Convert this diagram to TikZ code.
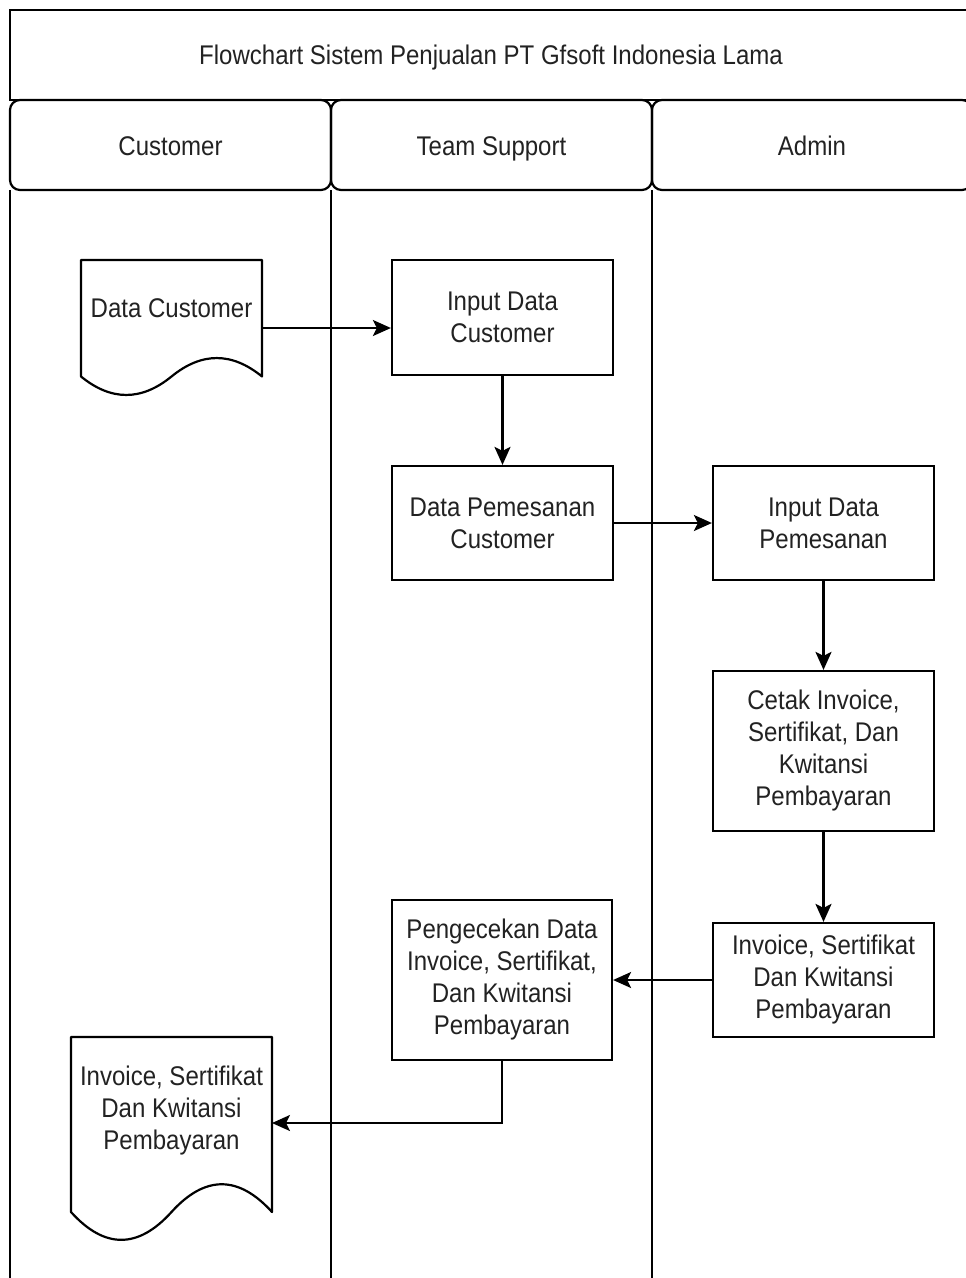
\documentclass[tikz,border=0pt]{standalone}
\usepackage{fontspec}
\setmainfont{Liberation Sans}[FakeStretch=0.89]
\usetikzlibrary{arrows.meta}
\definecolor{txt}{HTML}{222222}
\tikzset{
  ln/.style={line width=2.2pt, draw=black},
  procbox/.style={ln, rectangle, align=center, inner sep=0pt, text=txt,
    font=\fontsize{27}{32}\selectfont},
  lbl/.style={align=center, inner sep=0pt, text=txt, font=\fontsize{27}{32}\selectfont},
  arr/.style={ln, -{Stealth[length=18pt, width=16pt, inset=4pt]}},
}
\begin{document}
\begin{tikzpicture}[x=1pt, y=-1pt]
\useasboundingbox (0,0) rectangle (966,1278);
\clip (0,0) rectangle (966,1278);
% title
\draw[ln] (975,10) -- (10,10) -- (10,100) -- (975,100);
\node[lbl, anchor=base] (title) at (491,64) {Flowchart Sistem Penjualan PT Gfsoft Indonesia Lama};
% lane headers
\draw[ln, rounded corners=10pt] (10,100) rectangle (331,190);
\draw[ln, rounded corners=10pt] (331,100) rectangle (652,190);
\draw[ln, rounded corners=10pt] (652,100) rectangle (972,190);
\node[lbl, anchor=base] (h1) at (170.5,155) {Customer};
\node[lbl, anchor=base] (h2) at (491.5,155) {Team Support};
\node[lbl, anchor=base] (h3) at (812,155) {Admin};
% lane lines
\draw[ln] (10,190) -- (10,1290);
\draw[ln] (331,190) -- (331,1290);
\draw[ln] (652,190) -- (652,1290);
% document 1
\draw[ln, line join=round] (81,260) -- (262,260) -- (262,376.5)
  .. controls (231.83,351.9) and (201.67,351.9) .. (171.5,376.5)
  .. controls (141.33,401.1) and (111.17,401.1) .. (81,376.5) -- cycle;
\node[lbl] (dc) at (171.5,308) {Data Customer};
\coordinate (dcE) at (262,328);
% document 2
\draw[ln, line join=round] (71,1037) -- (272,1037) -- (272,1212)
  .. controls (238.5,1175) and (205,1175) .. (171.5,1212)
  .. controls (138,1249.1) and (104.5,1249.1) .. (71,1212) -- cycle;
\node[lbl] (doc2) at (171.5,1111) {Invoice, Sertifikat\\Dan Kwitansi\\Pembayaran};
\coordinate (d2E) at (272,1123);
% process boxes
\node[procbox, minimum width=221pt, minimum height=115pt] (idc) at (502.5,317.5) {Input Data\\Customer};
\node[procbox, minimum width=221pt, minimum height=114pt] (dpc) at (502.5,523) {Data Pemesanan\\Customer};
\node[procbox, minimum width=221pt, minimum height=114pt] (idp) at (823.5,523) {Input Data\\Pemesanan};
\node[procbox, minimum width=221pt, minimum height=160pt] (cetak) at (823.5,751) {Cetak Invoice,\\Sertifikat, Dan\\Kwitansi\\Pembayaran};
\node[procbox, minimum width=221pt, minimum height=114pt] (inv) at (823.5,980) {Invoice, Sertifikat\\Dan Kwitansi\\Pembayaran};
\node[procbox, minimum width=220pt, minimum height=160pt] (peng) at (502,980) {Pengecekan Data\\Invoice, Sertifikat,\\Dan Kwitansi\\Pembayaran};
% connectors
\draw[arr] (dcE) -- (dcE -| idc.west);
\draw[arr] (idc.south) -- (dpc.north);
\draw[arr] (dpc.east) -- (idp.west);
\draw[arr] (idp.south) -- (cetak.north);
\draw[arr] (cetak.south) -- (inv.north);
\draw[arr] (inv.west) -- (peng.east);
\draw[arr] (peng.south) |- (d2E);
\end{tikzpicture}
\end{document}
